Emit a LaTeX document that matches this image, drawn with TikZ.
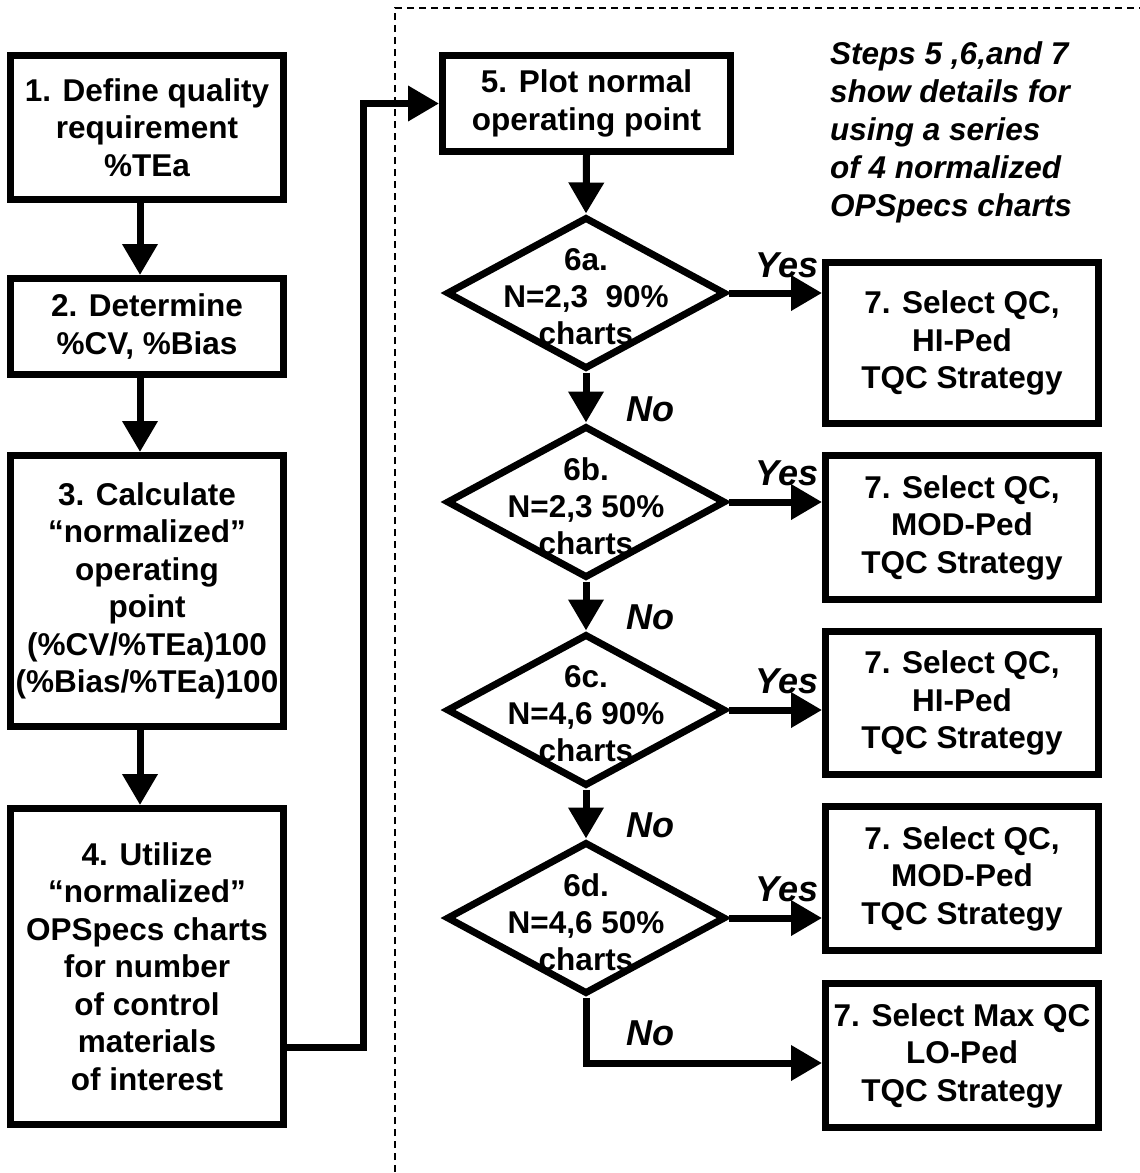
\documentclass[tikz,border=0pt]{standalone}
\usepackage{fontspec}
\setmainfont{Liberation Sans}
\usetikzlibrary{arrows.meta,shapes.geometric,calc}
\begin{document}
\begin{tikzpicture}[x=1pt,y=-1pt,
  box/.style={draw, line width=7pt, line join=miter, inner sep=0pt, align=center,
    font=\fontsize{31.5pt}{37.5pt}\selectfont\bfseries},
  dia/.style={draw, diamond, line width=7pt, line join=miter, inner sep=0pt,
    minimum width=279pt, minimum height=152pt},
  dtext/.style={inner sep=0pt, align=center, font=\fontsize{31.5pt}{37pt}\selectfont\bfseries},
  lbl/.style={inner sep=0pt, font=\fontsize{36pt}{40pt}\selectfont\bfseries\itshape},
  note/.style={inner sep=0pt, align=left, font=\fontsize{31.5pt}{38pt}\selectfont\bfseries\itshape},
  arr/.style={line width=7pt, line join=miter, -{Triangle[length=31pt,width=34pt]}},
  dashline/.style={line width=1.5pt, dash pattern=on 7pt off 5pt}]
\useasboundingbox (0,0) rectangle (1140,1173);

% dashed region
\draw[dashline] (395,1172) -- (395,8) -- (1140,8);

% left column
\node[box, minimum width=273pt, minimum height=144pt] (b1) at (147,127.5) {1. Define quality\\requirement\\\%TEa};
\node[box, minimum width=273pt, minimum height=96pt] (b2) at (147,326.5) {2. Determine\\\%CV, \%Bias};
\node[box, minimum width=273pt, minimum height=271pt] (b3) at (147,591) {3. Calculate\\“normalized”\\operating\\point\\(\%CV/\%TEa)100\\(\%Bias/\%TEa)100};
\node[box, minimum width=273pt, minimum height=316pt] (b4) at (147,966.5) {4. Utilize\\“normalized”\\OPSpecs charts\\for number\\of control\\materials\\of interest};

\coordinate (lx) at (140,0);
\draw[arr] (b1.south -| lx) -- (b2.north -| lx);
\draw[arr] (b2.south -| lx) -- (b3.north -| lx);
\draw[arr] (b3.south -| lx) -- (b4.north -| lx);

% right column
\node[box, minimum width=288pt, minimum height=96pt] (b5) at (586.5,103.5) {5. Plot normal\\operating point};
\coordinate (jog) at (363,1047);
\draw[arr] (b4.east |- jog) -- (jog) |- (b5.west);

\node[dia] (d6a) at (586,293) {};
\node[dia] (d6b) at (586,502) {};
\node[dia] (d6c) at (586,710) {};
\node[dia] (d6d) at (586,918) {};
\node[dtext] (t6a) at (586,297) {6a.\\N=2,3~~90\%\\charts};
\node[dtext] (t6b) at (586,506) {6b.\\N=2,3 50\%\\charts};
\node[dtext] (t6c) at (586,714) {6c.\\N=4,6 90\%\\charts};
\node[dtext] (t6d) at (586,922) {6d.\\N=4,6 50\%\\charts};

\node[box, minimum width=273pt, minimum height=161pt] (b7a) at (962,343) {7. Select QC,\\HI-Ped\\TQC Strategy};
\node[box, minimum width=273pt, minimum height=144pt] (b7b) at (962,527.5) {7. Select QC,\\MOD-Ped\\TQC Strategy};
\node[box, minimum width=273pt, minimum height=143pt] (b7c) at (962,703) {7. Select QC,\\HI-Ped\\TQC Strategy};
\node[box, minimum width=273pt, minimum height=144pt] (b7d) at (962,878.5) {7. Select QC,\\MOD-Ped\\TQC Strategy};
\node[box, minimum width=273pt, minimum height=144pt] (b7e) at (962,1055.5) {7. Select Max QC\\LO-Ped\\TQC Strategy};

\draw[arr] (b5.south) -- (d6a.north);
\draw[arr] (d6a.south) -- (d6b.north);
\draw[arr] (d6b.south) -- (d6c.north);
\draw[arr] (d6c.south) -- (d6d.north);

\draw[arr] (d6a.east) -- (d6a.east -| b7a.west);
\draw[arr] (d6b.east) -- (d6b.east -| b7b.west);
\draw[arr] (d6c.east) -- (d6c.east -| b7c.west);
\draw[arr] (d6d.east) -- (d6d.east -| b7d.west);
\coordinate (lowy) at (0,1063);
\draw[arr] (d6d.south) |- (b7e.west |- lowy);

% labels
\node[lbl] (y1) at (787,265) {Yes};
\node[lbl] (y2) at (787,473) {Yes};
\node[lbl] (y3) at (787,681) {Yes};
\node[lbl] (y4) at (787,889) {Yes};
\node[lbl] (n1) at (650,409) {No};
\node[lbl] (n2) at (650,617) {No};
\node[lbl] (n3) at (650,825) {No};
\node[lbl] (n4) at (650,1033) {No};

\node[note, anchor=north west] (steps) at (830,41) {Steps 5 ,6,and 7\\show details for\\using a series\\of 4 normalized\\OPSpecs charts};
\end{tikzpicture}
\end{document}
